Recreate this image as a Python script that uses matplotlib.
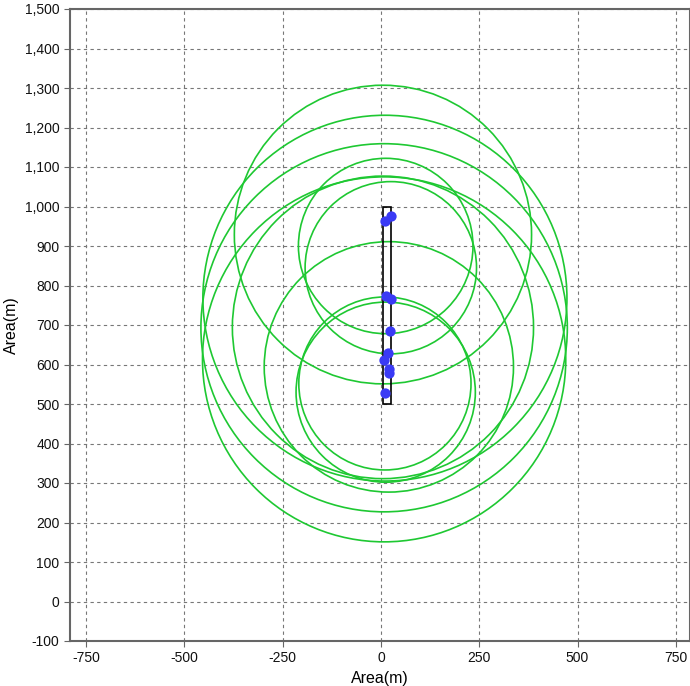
import matplotlib
matplotlib.use("Agg")
import matplotlib.pyplot as plt
from matplotlib.patches import Circle, Rectangle
from matplotlib.ticker import FuncFormatter

plt.rcParams['font.family'] = ['Liberation Sans', 'DejaVu Sans']
plt.rcParams['axes.unicode_minus'] = False

# measured points (m)
pt_x = [10, 25, 14, 25, 23, 18, 8, 20, 20, 10]
pt_y = [964, 977, 773, 765, 685, 630, 611, 588, 579, 529]

# range circles: centre x, centre y, radius
circ_x = [12, 25, 5, 10, 12, 8, 8, 10, 5, 20]
circ_y = [900, 845, 929, 552, 530, 693, 613, 768, 694, 594]
circ_r = [222, 218, 378, 219, 228, 466, 462, 463, 383, 317]

# area box
box_x = [5, 25]
box_y = [500, 1000]

fig = plt.figure(figsize=(6.9, 6.86), dpi=100)
ax = fig.add_axes([70/690, 1 - 641/686, 620/690, 632/686])

ax.set_xlim(-791, 786)
ax.set_ylim(-100, 1500)

for cx, cy, r in zip(circ_x, circ_y, circ_r):
    ax.add_patch(Circle((cx, cy), r, fill=False, edgecolor='#1ec832', lw=1.2, zorder=3))

ax.add_patch(Rectangle((box_x[0], box_y[0]), box_x[1] - box_x[0], box_y[1] - box_y[0],
                       fill=False, edgecolor='black', lw=1.2, zorder=4))

ax.scatter(pt_x, pt_y, s=55, color='#3a3af5', zorder=5, linewidths=0)

ax.set_xticks([-750, -500, -250, 0, 250, 500, 750])
ax.set_yticks(range(-100, 1501, 100))
ax.yaxis.set_major_formatter(FuncFormatter(lambda v, p: f"{int(v):,}"))

ax.grid(True, color='#777777', linestyle=(0, (3, 3)), lw=0.8)
ax.set_axisbelow(True)
for s in ax.spines.values():
    s.set_color('#666666')
    s.set_linewidth(1.5)
ax.tick_params(direction='out', length=4, color='#666666', labelsize=10, labelcolor='#111111')

ax.set_xlabel('Area(m)', fontsize=11.5, labelpad=4)
ax.set_ylabel('Area(m)', fontsize=11.5, labelpad=4)

fig.savefig('out.png', dpi=100)
